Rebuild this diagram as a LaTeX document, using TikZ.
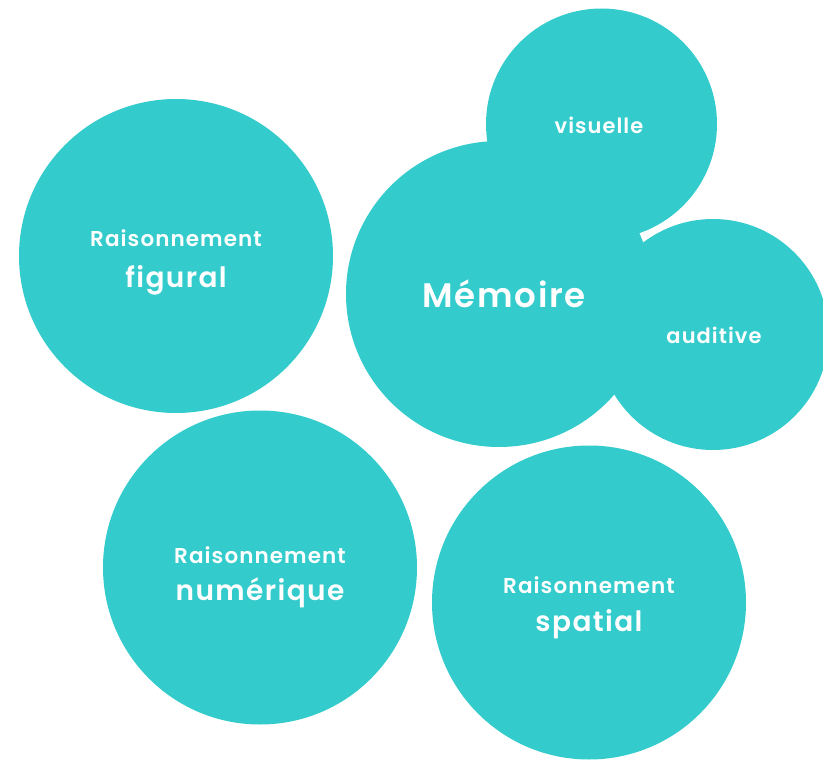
\documentclass[tikz,border=0pt]{standalone}
\usepackage{fontspec}
\setmainfont{Poppins SemiBold}[LetterSpace=5]
\definecolor{bubblecol}{HTML}{33CBCB}
\tikzset{
  bubble/.style={circle, fill=bubblecol, draw=none, inner sep=0pt, outer sep=0pt},
  lbl/.style={anchor=base, text=white, inner sep=0pt},
  small/.style={lbl, font=\fontsize{21.5}{24}\selectfont},
  sub/.style={lbl, font=\fontsize{21}{24}\selectfont},
  big/.style={lbl, font=\fontsize{28}{32}\selectfont},
  huge/.style={lbl, font=\fontsize{34}{40}\selectfont},
}
\begin{document}
\begin{tikzpicture}[x=1pt,y=-1pt]
\useasboundingbox (0,0) rectangle (823,760);
\node[bubble, minimum size=314pt] (fig) at (176,256) {};
\node[bubble, minimum size=314pt] (num) at (260,567.5) {};
\node[bubble, minimum size=314pt] (spa) at (589,602.5) {};
\node[bubble, minimum size=306pt] (mem) at (499,294) {};
\node[bubble, minimum size=231pt] (vis) at (601.5,124) {};
\node[bubble, minimum size=231pt] (aud) at (713,334.5) {};
\node[small] (figA) at (176,246) {Raisonnement};
\node[big] (figB) at (176,287) {figural};
\node[small] (numA) at (260,563) {Raisonnement};
\node[big] (numB) at (260,600) {numérique};
\node[small] (spaA) at (589,593) {Raisonnement};
\node[big] (spaB) at (589,631) {spatial};
\node[huge] (memT) at (504,307) {Mémoire};
\node[sub] (visT) at (599,133) {visuelle};
\node[sub] (audT) at (714,343) {auditive};
\end{tikzpicture}
\end{document}
